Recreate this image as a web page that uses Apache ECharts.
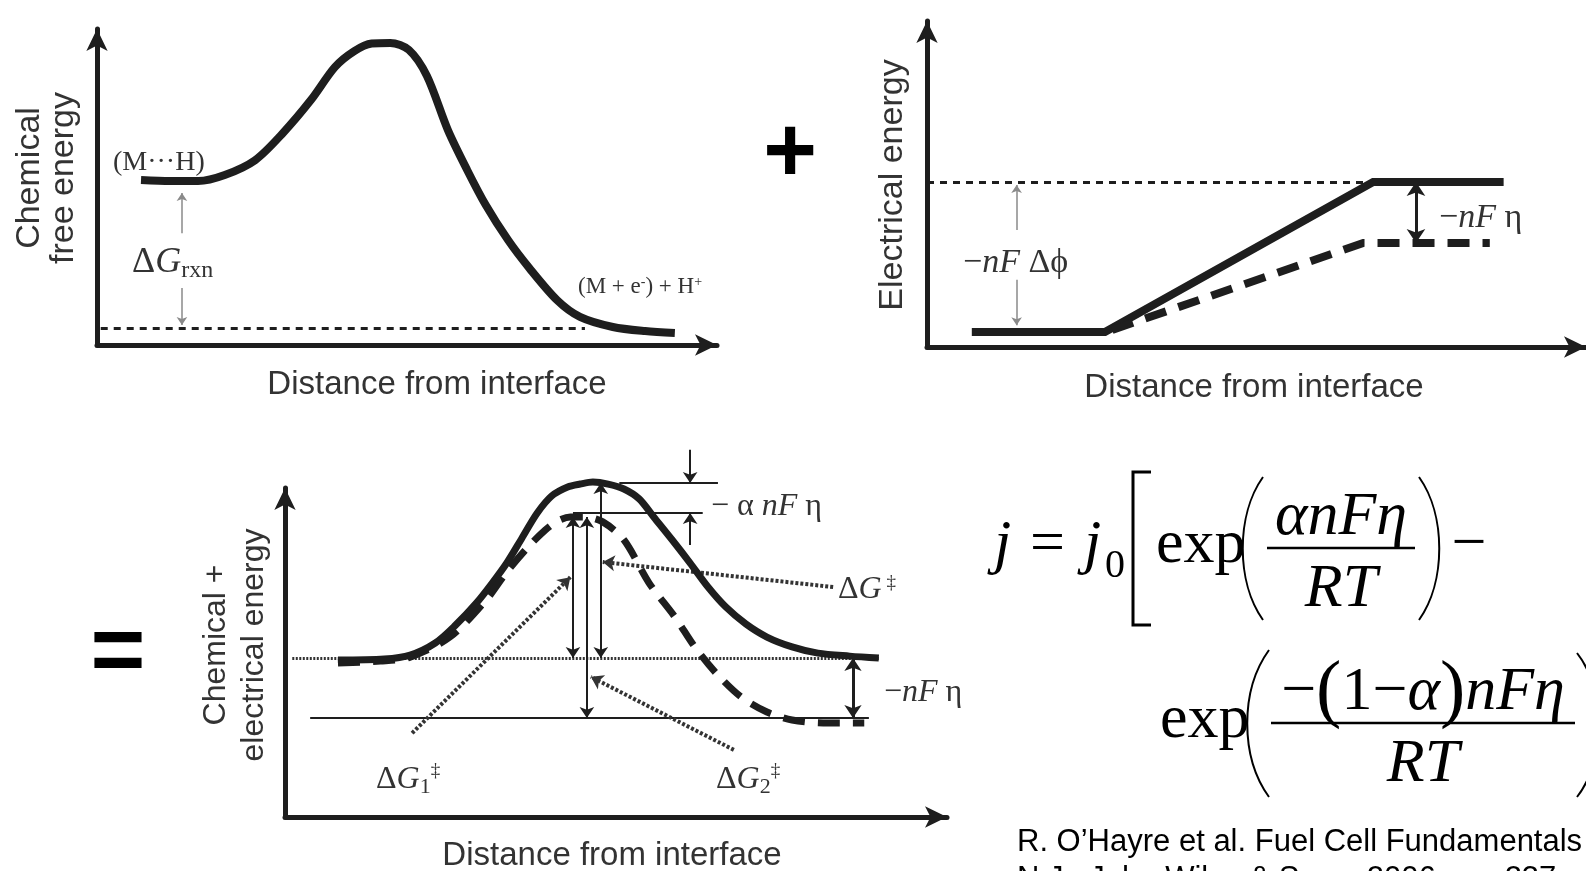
<!DOCTYPE html>
<html>
<head>
<meta charset="utf-8">
<script src="https://cdn.jsdelivr.net/npm/echarts@6/dist/echarts.min.js"></script>
<style>
  html, body { margin: 0; padding: 0; background: #fff; }
  #main { width: 1586px; height: 871px; }
</style>
</head>
<body>
<div id="main"></div>
<script>
// ---- panel 1: chemical free energy vs distance (arbitrary units 0..100)
var chemDist   = [7.1, 11.8, 16.3, 20.6, 25.5, 30.0, 34.5, 38.4, 41.5, 44.3, 47.3, 50.3, 53.2, 56.6, 59.7, 62.7, 66.3, 69.7, 74.2, 77.9, 83.2, 88.4, 93.2];
var chemEnergy = [52.2, 51.9, 51.9, 53.8, 58.5, 67.1, 77.5, 88.0, 93.0, 95.4, 95.6, 93.4, 85.2, 68.0, 55.4, 44.3, 33.2, 24.4, 14.2, 8.9, 5.7, 4.4, 3.8];
var chemProductLevel = 5.4;
var chemProductSpan = [0.6, 78.7];
var rxnArrowX = 13.7;
var rxnArrowUpper = [35.4, 48.1];
var rxnArrowLower = [18.0, 6.3];

// ---- panel 2: electrical energy
var elecDist      = [6.8, 27.0, 67.7, 87.5];
var elecEnergy    = [4.6, 4.6, 50.6, 50.6];
var elecDistEta   = [28.1, 66.2, 85.4];
var elecEnergyEta = [5.2, 31.9, 31.9];
var elecRefSpan = [0, 67.7];
var etaArrowX = 74.2;
var phiArrowX = 13.6;
var phiArrowUpper = [35.9, 49.7];
var phiArrowLower = [20.6, 6.7];

// ---- panel 3: chemical + electrical energy
var totDist      = [8.0, 15.0, 18.9, 22.7, 25.8, 28.9, 31.3, 33.5, 35.8, 38.1, 40.3, 42.7, 44.6, 46.5, 48.8, 51.2, 53.5, 55.7, 58.5, 61.2, 63.9, 66.6, 69.6, 72.8, 76.6, 80.5, 85.3, 89.7];
var totEnergy    = [47.7, 48.0, 49.2, 52.9, 58.4, 65.0, 71.1, 77.2, 84.8, 92.4, 97.6, 100.3, 101.2, 101.8, 101.2, 99.7, 96.7, 91.2, 84.2, 77.2, 69.9, 63.8, 58.7, 54.7, 51.7, 49.8, 48.9, 48.3];
var totDistEta   = [8.0, 14.4, 18.9, 24.9, 30.4, 33.5, 36.6, 39.3, 41.2, 43.1, 45.3, 48.0, 51.2, 55.0, 58.9, 61.9, 65.1, 68.9, 72.8, 76.6, 81.3, 87.5];
var totEnergyEta = [46.8, 47.4, 48.6, 54.7, 66.0, 74.5, 81.8, 87.2, 90.0, 91.2, 91.2, 89.7, 84.2, 71.1, 60.8, 51.7, 43.8, 36.5, 31.9, 29.5, 28.6, 28.6];
var levelStart = 48.3, levelStartSpan = [1.1, 89.7];
var levelEnd = 30.1,   levelEndSpan = [3.8, 88.2];
var peakTop = 101.5,   peakTopSpan = [50.5, 65.4];
var peakEta = 92.4,    peakEtaSpan = [43.5, 63.1];
// vertical arrows [x, yFrom, yTo]
var barrierArrows = [[43.5, 91.2, 48.3], [47.7, 101.5, 48.3], [45.6, 91.2, 30.1]];
var alphaArrowX = 61.2;
var alphaDown = [111.6, 101.5];
var alphaUp = [82.7, 92.4];
var etaTotX = 85.8;
// dotted pointers [[x1,y1],[x2,y2]]
var ptrG  = [[82.8, 69.9], [48.0, 77.5]];
var ptrG1 = [[19.2, 25.5], [43.1, 72.9]];
var ptrG2 = [[67.8, 20.4], [46.2, 42.6]];

var SANS = "'Liberation Sans', Arial, sans-serif";
var SERIF = "'Liberation Serif', 'Times New Roman', serif";
var INK = '#1e1e1e';

function zip(a, b) { return a.map(function (v, i) { return [v, b[i]]; }); }

var dom = document.getElementById('main');
var myChart = echarts.init(dom, null, { renderer: 'canvas' });

function xAx(i) {
  return {
    gridIndex: i, type: 'value', min: 0, max: 100,
    axisLine: { show: true, symbol: ['none', 'arrow'], symbolSize: [16, 22], lineStyle: { color: INK, width: 5 } },
    axisTick: { show: false }, axisLabel: { show: false }, splitLine: { show: false }
  };
}

function curve(i, data, width, type, smooth) {
  return {
    type: 'line', xAxisIndex: i, yAxisIndex: i, data: data, smooth: smooth === undefined ? 0.3 : smooth,
    showSymbol: false, clip: false, silent: true, z: 5,
    lineStyle: { color: INK, width: width, type: type || 'solid', cap: 'butt', join: 'miter' }
  };
}

function segs(i, list, style, symbols, size) {
  return {
    type: 'lines', coordinateSystem: 'cartesian2d', xAxisIndex: i, yAxisIndex: i,
    clip: false, silent: true, polyline: false, z: 4,
    symbol: symbols || ['none', 'none'], symbolSize: size || 12,
    lineStyle: Object.assign({ color: INK, width: 2, opacity: 1, curveness: 0 }, style),
    data: list.map(function (c) { return { coords: c }; })
  };
}

function vseg(x, y1, y2) { return [[x, y1], [x, y2]]; }
function hseg(y, span) { return [[span[0], y], [span[1], y]]; }

var series = [
  // panel 1
  curve(0, zip(chemDist, chemEnergy), 8),
  segs(0, [hseg(chemProductLevel, chemProductSpan)], { width: 3, type: [7, 6] }),
  segs(0, [vseg(rxnArrowX, rxnArrowUpper[0], rxnArrowUpper[1])], { color: '#8a8a8a', width: 1.5 }, ['none', 'arrow'], 8),
  segs(0, [vseg(rxnArrowX, rxnArrowLower[0], rxnArrowLower[1])], { color: '#8a8a8a', width: 1.5 }, ['none', 'arrow'], 8),
  // panel 2 (straight segments)
  curve(1, zip(elecDist, elecEnergy), 8, 'solid', false),
  curve(1, zip(elecDistEta, elecEnergyEta), 8, [22, 13], false),
  segs(1, [hseg(elecEnergy[2], elecRefSpan)], { width: 3, type: [7, 6] }),
  segs(1, [vseg(etaArrowX, elecEnergy[2], elecEnergyEta[1])], { width: 3 }, ['arrow', 'arrow'], 14),
  segs(1, [vseg(phiArrowX, phiArrowUpper[0], phiArrowUpper[1])], { color: '#8a8a8a', width: 1.5 }, ['none', 'arrow'], 8),
  segs(1, [vseg(phiArrowX, phiArrowLower[0], phiArrowLower[1])], { color: '#8a8a8a', width: 1.5 }, ['none', 'arrow'], 8),
  // panel 3
  curve(2, zip(totDist, totEnergy), 7),
  curve(2, zip(totDistEta, totEnergyEta), 7, [22, 13]),
  segs(2, [hseg(levelStart, levelStartSpan)], { width: 3, type: [2, 1.5], color: '#333' }),
  segs(2, [hseg(levelEnd, levelEndSpan), hseg(peakTop, peakTopSpan), hseg(peakEta, peakEtaSpan)], { width: 2 }),
  segs(2, barrierArrows.map(function (a) { return vseg(a[0], a[1], a[2]); }), { width: 2 }, ['arrow', 'arrow'], 11),
  segs(2, [vseg(alphaArrowX, alphaDown[0], alphaDown[1]), vseg(alphaArrowX, alphaUp[0], alphaUp[1])], { width: 2 }, ['none', 'arrow'], 11),
  segs(2, [vseg(etaTotX, levelStart, levelEnd)], { width: 3 }, ['arrow', 'arrow'], 13),
  segs(2, [ptrG, ptrG1, ptrG2], { width: 4, type: [3, 2], color: '#333' }, ['none', 'arrow'], 12)
];

function richSet(s) {
  return {
    n: { fontFamily: SERIF, fontSize: s, fill: '#333' },
    i: { fontFamily: SERIF, fontSize: s, fontStyle: 'italic', fill: '#333' },
    sub: { fontFamily: SERIF, fontSize: Math.round(s * 0.68), fill: '#333', verticalAlign: 'bottom', padding: [Math.round(s * 0.45), 0, 0, 0] },
    sup: { fontFamily: SERIF, fontSize: Math.round(s * 0.6), fill: '#333', verticalAlign: 'top' }
  };
}

function label(x, y, text, o) {
  o = o || {};
  return {
    type: 'text', x: x, y: y, rotation: o.rotation || 0, silent: true, z: 10,
    style: {
      text: text, fill: o.color || '#333',
      fontFamily: o.family || SANS, fontSize: o.size || 32,
      fontStyle: o.italic ? 'italic' : 'normal', fontWeight: o.bold ? 'bold' : 'normal',
      align: o.align || 'left', verticalAlign: 'middle',
      lineHeight: o.lineHeight, rich: o.rich
    }
  };
}

function stroke(shape, type, w) {
  return { type: type, shape: shape, silent: true, style: { stroke: '#000', lineWidth: w || 2, fill: null } };
}

var F = 62;
var graphic = [
  // axis titles
  label(437, 385, 'Distance from interface', { size: 33, align: 'center' }),
  label(1254, 388, 'Distance from interface', { size: 33, align: 'center' }),
  label(612, 856, 'Distance from interface', { size: 33, align: 'center' }),
  label(47, 178, 'Chemical\nfree energy', { size: 34, align: 'center', rotation: Math.PI / 2, lineHeight: 34 }),
  label(893, 185, 'Electrical energy', { size: 34, align: 'center', rotation: Math.PI / 2 }),
  label(235, 645, 'Chemical +\nelectrical energy', { size: 32, align: 'center', rotation: Math.PI / 2, lineHeight: 38 }),
  // operators
  label(790, 156, '+', { size: 92, bold: true, align: 'center', color: '#000' }),
  label(118, 655, '=', { size: 94, bold: true, align: 'center', color: '#000' }),
  // panel 1 labels
  label(113, 163, '(M···H)', { family: SERIF, size: 28 }),
  label(132, 263, '{n|Δ}{i|G}{sub|rxn}', { rich: richSet(36) }),
  label(578, 287, '{n|(M + e}{sup|-}{n|) + H}{sup|+}', { rich: richSet(23) }),
  // panel 2 labels
  label(963, 263, '{n|−}{i|nF }{n|Δϕ}', { rich: richSet(34) }),
  label(1439, 218, '{n|−}{i|nF }{n|η}', { rich: richSet(34) }),
  // panel 3 labels
  label(711, 507, '{n|− α }{i|nF }{n|η}', { rich: richSet(32) }),
  label(838, 590, '{n|Δ}{i|G}{sup| ‡}', { rich: richSet(32) }),
  label(376, 780, '{n|Δ}{i|G}{sub|1}{sup|‡}', { rich: richSet(32) }),
  label(716, 780, '{n|Δ}{i|G}{sub|2}{sup|‡}', { rich: richSet(32) }),
  label(884, 693, '{n|−}{i|nF }{n|η}', { rich: richSet(32) }),
  // Butler-Volmer equation
  label(994, 546, 'j', { family: SERIF, size: F, italic: true, color: '#000' }),
  label(1030, 546, '=', { family: SERIF, size: F, color: '#000' }),
  label(1084, 546, 'j', { family: SERIF, size: F, italic: true, color: '#000' }),
  label(1105, 566, '0', { family: SERIF, size: 40, color: '#000' }),
  stroke({ points: [[1151, 472], [1133, 472], [1133, 625], [1151, 625]] }, 'polyline', 3),
  label(1156, 546, 'exp', { family: SERIF, size: F, color: '#000' }),
  stroke({ x1: 1263, y1: 477, cpx1: 1236, cpy1: 515, cpx2: 1236, cpy2: 582, x2: 1263, y2: 620 }, 'bezierCurve', 2),
  label(1341, 518, 'αnFη', { family: SERIF, size: F, italic: true, align: 'center', color: '#000' }),
  stroke({ x1: 1267, y1: 548, x2: 1415, y2: 548 }, 'line', 2.5),
  label(1341, 590, 'RT', { family: SERIF, size: F, italic: true, align: 'center', color: '#000' }),
  stroke({ x1: 1419, y1: 477, cpx1: 1446, cpy1: 515, cpx2: 1446, cpy2: 582, x2: 1419, y2: 620 }, 'bezierCurve', 2),
  label(1469, 546, '−', { family: SERIF, size: F, align: 'center', color: '#000' }),
  label(1160, 721, 'exp', { family: SERIF, size: F, color: '#000' }),
  stroke({ x1: 1269, y1: 650, cpx1: 1240, cpy1: 690, cpx2: 1240, cpy2: 757, x2: 1269, y2: 797 }, 'bezierCurve', 2),
  label(1423, 693, '{n|−}{p|(}{n|1−}{i|α}{p|)}{i|nFη}', { align: 'center', rich: {
    n: { fontFamily: SERIF, fontSize: F, fill: '#000' },
    i: { fontFamily: SERIF, fontSize: F, fontStyle: 'italic', fill: '#000' },
    p: { fontFamily: SERIF, fontSize: 76, fill: '#000' }
  } }),
  stroke({ x1: 1271, y1: 723, x2: 1575, y2: 723 }, 'line', 2.5),
  label(1423, 765, 'RT', { family: SERIF, size: F, italic: true, align: 'center', color: '#000' }),
  stroke({ x1: 1577, y1: 653, cpx1: 1606, cpy1: 690, cpx2: 1606, cpy2: 760, x2: 1577, y2: 797 }, 'bezierCurve', 2),
  // citation
  label(1017, 842, 'R. O’Hayre et al. Fuel Cell Fundamentals', { size: 31, color: '#000' }),
  label(1017, 879, 'N.J.: John Wiley & Sons, 2006, pp. 237', { size: 31, color: '#000' })
];

var option = {
  backgroundColor: '#fff',
  animation: false,
  grid: [
    { left: 97, top: 29, width: 620, height: 316 },
    { left: 927, top: 21, width: 663, height: 326 },
    { left: 285, top: 488, width: 662, height: 329 }
  ],
  xAxis: [xAx(0), xAx(1), xAx(2)],
  yAxis: [xAx(0), xAx(1), xAx(2)],
  series: series,
  graphic: graphic
};

myChart.setOption(option);
</script>
</body>
</html>
